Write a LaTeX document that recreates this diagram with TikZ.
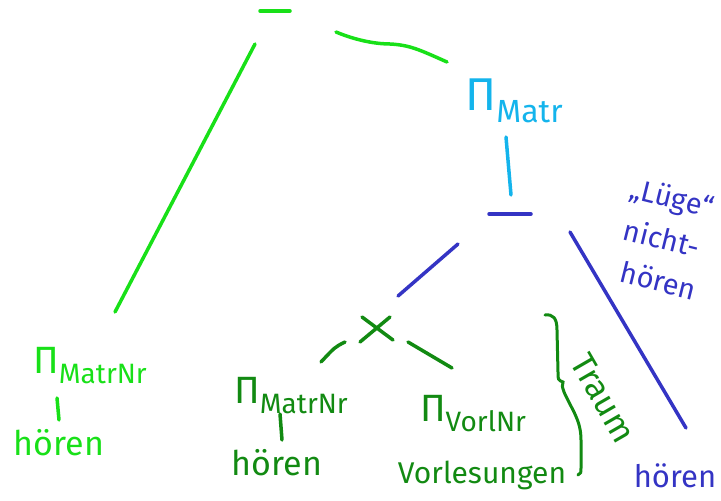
\documentclass[tikz,border=0pt]{standalone}
\usepackage{fontspec}
\setmainfont{Fira Sans}
\definecolor{lg}{HTML}{18E018}
\definecolor{cy}{HTML}{14B4EC}
\definecolor{bl}{HTML}{3434C4}
\definecolor{dg}{HTML}{128A12}
\newcommand\myproj[1]{{\fontsize{38}{38}\selectfont Π}\raisebox{-10pt}{\fontsize{28}{28}\selectfont #1}}
\tikzset{
  stroke/.style={line width=3.5pt, line cap=round},
  lbl/.style={inner sep=0pt, font=\fontsize{34}{34}\selectfont},
}
\begin{document}
\begin{tikzpicture}[x=1pt,y=-1pt]
\useasboundingbox (0,0) rectangle (721,501);
% top (green)
\coordinate (tb1) at (260,11); \coordinate (tb2) at (290,11);
\draw[stroke, lg] (tb1) -- (tb2);
\coordinate (tl1) at (255,44); \coordinate (tl2) at (115,312);
\draw[stroke, lg] (tl1) -- (tl2);
\coordinate (tr1) at (336,32); \coordinate (tr2) at (447,62);
\draw[stroke, lg] (tr1) .. controls (360,42) and (380,44) .. (390,44) .. controls (410,45) and (420,50) .. (tr2);
% left branch
\node[lbl, lg] (lpi) at (90,366) {\myproj{MatrNr}};
\coordinate (lv1) at (57,398); \coordinate (lv2) at (59,420);
\draw[stroke, lg] (lv1) -- (lv2);
\node[lbl, lg] (lhoer) at (59,443) {hören};
% cyan projection
\node[lbl, cy] (cpi) at (514,101) {{\fontsize{46}{46}\selectfont Π}\raisebox{-12pt}{\fontsize{32}{32}\selectfont Matr}};
\coordinate (cv1) at (506,137); \coordinate (cv2) at (511,195);
\draw[stroke, cy] (cv1) -- (cv2);
% blue minus
\coordinate (bm1) at (489,214); \coordinate (bm2) at (531,214);
\draw[stroke, bl] (bm1) -- (bm2);
\coordinate (bl1) at (458,244); \coordinate (bl2) at (398,296);
\draw[stroke, bl] (bl1) -- (bl2);
\coordinate (br1) at (570,232); \coordinate (br2) at (686,428);
\draw[stroke, bl] (br1) -- (br2);
\node[lbl, bl, rotate=-14, align=center, font=\fontsize{29}{42}\selectfont] (luege) at (662,238) {„Lüge“\\nicht-\\\hspace*{14pt}hören};
\node[lbl, bl, font=\fontsize{31}{31}\selectfont] (bhoer) at (675,476) {hören};
% dark green cross product
\coordinate (x1) at (362,317); \coordinate (x2) at (393,340);
\coordinate (x3) at (390,317); \coordinate (x4) at (360,342);
\draw[stroke, dg] (x1) -- (x2);
\draw[stroke, dg] (x3) -- (x4);
\coordinate (dl1) at (345,342); \coordinate (dl2) at (321,362);
\draw[stroke, dg] (dl1) .. controls (335,347) .. (dl2);
\coordinate (dr1) at (408,342); \coordinate (dr2) at (452,368);
\draw[stroke, dg] (dr1) -- (dr2);
\node[lbl, dg] (dpi) at (291,396) {\myproj{MatrNr}};
\coordinate (dv1) at (280,414); \coordinate (dv2) at (282,440);
\draw[stroke, dg] (dv1) -- (dv2);
\node[lbl, dg] (dhoer) at (277,463) {hören};
\node[lbl, dg] (vpi) at (473,414) {\myproj{VorlNr}};
\node[lbl, dg, font=\fontsize{30}{30}\selectfont] (vorl) at (482,475) {Vorlesungen};
% brace
\coordinate (bt) at (545,315); \coordinate (bc) at (563,382); \coordinate (be) at (578,475);
\draw[stroke, dg, line width=3pt] (bt) .. controls (553,314) and (557,318) .. (557,330)
  -- (558,372) .. controls (558,380) .. (bc)
  .. controls (562,386) .. (564,392)
  .. controls (572,410) and (581,420) .. (581,440)
  -- (581,468) .. controls (581,473) .. (be);
\node[lbl, dg, rotate=-60, font=\fontsize{34}{34}\selectfont] (traum) at (603,398) {Traum};
\end{tikzpicture}
\end{document}
